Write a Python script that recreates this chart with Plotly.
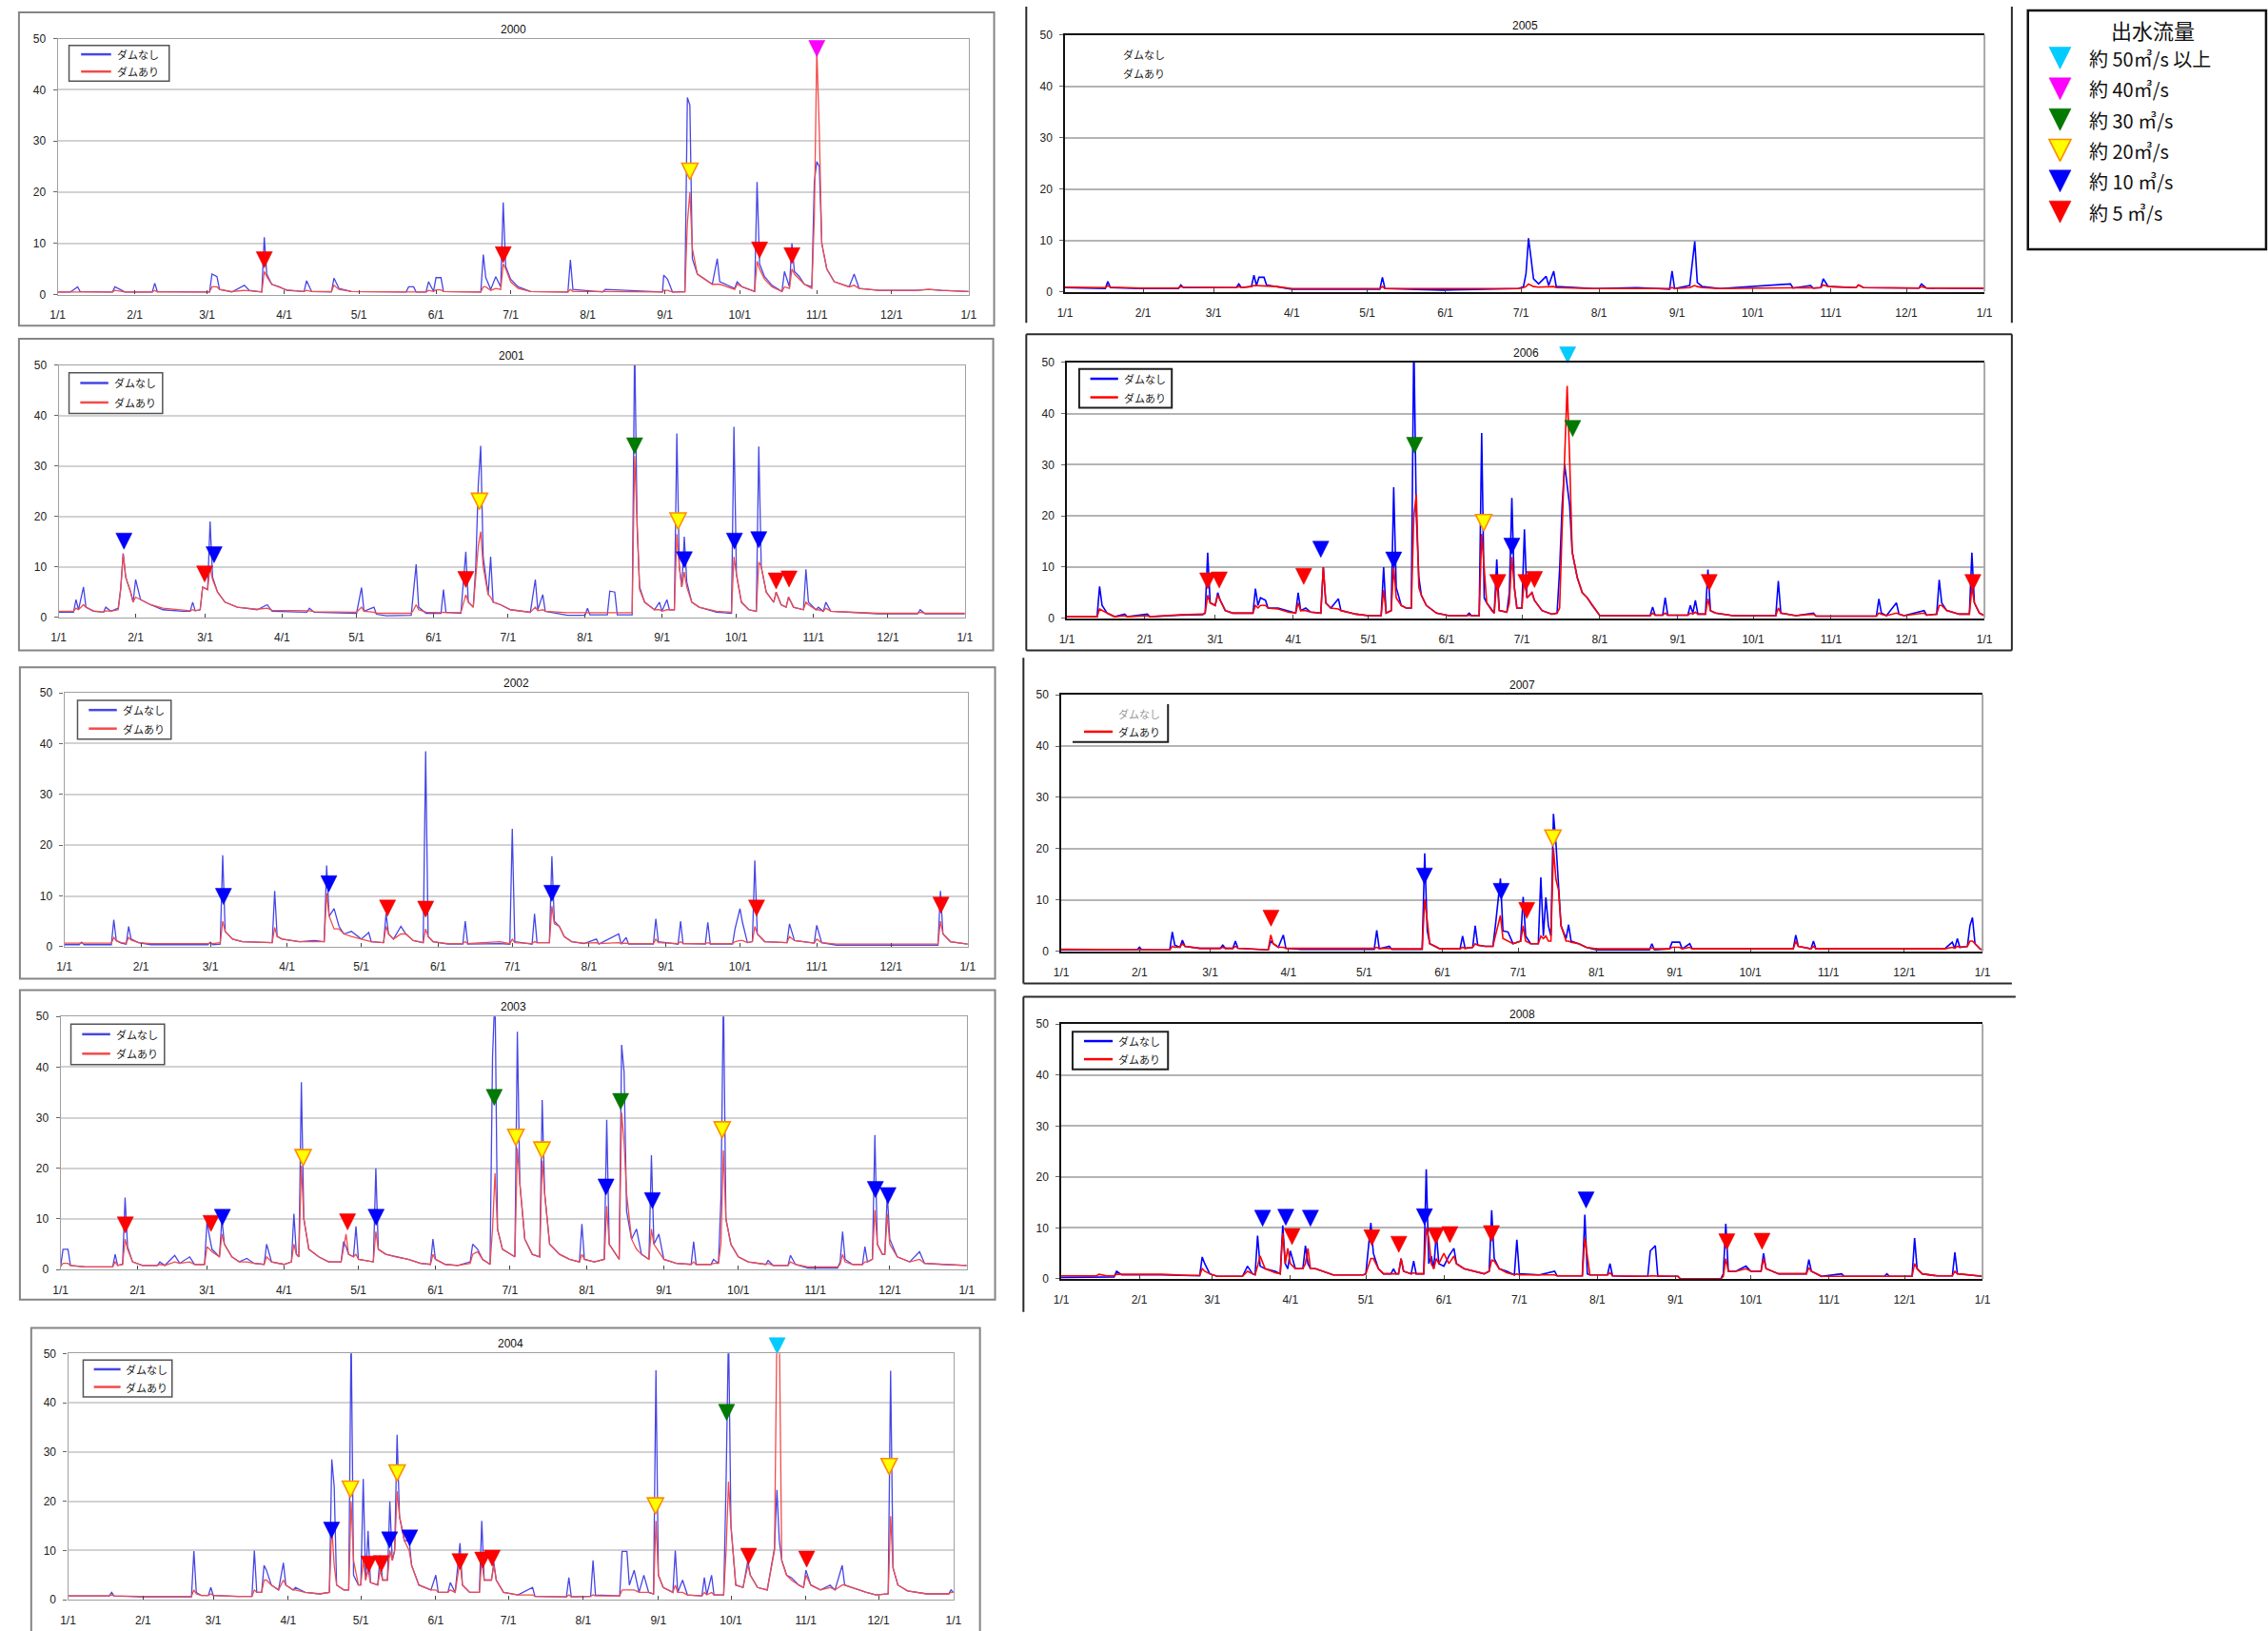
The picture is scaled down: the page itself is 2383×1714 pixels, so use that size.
import datetime
import plotly.graph_objects as go

W, H = 2383, 1714
NUMFONT = "Liberation Sans, Noto Sans CJK JP, sans-serif"
JFONT = "Noto Sans CJK JP, sans-serif"

# ---------------- data: (day of year, ダムなし, ダムあり) ----------------
y2000 = [(0,0.5,0.5),(5,0.5,0.5),(6,0.8,0.6),(8,1.5,0.6),(9,0.6,0.5),(22,0.5,0.5),(23,1.5,0.8),(25,1.0,0.7),
 (27,0.5,0.5),(38,0.5,0.5),(39,2.2,0.8),(40,0.6,0.5),(61,0.5,0.5),(62,4.0,1.5),(64,3.5,1.5),(65,1.0,1.0),
 (70,0.5,0.6),(75,1.8,0.8),(77,0.8,0.7),(82,0.5,0.5),(83,11.2,4.5),(84,4.0,3.5),(86,2.0,2.0),(89,1.5,1.5),
 (92,0.8,0.9),(99,0.6,0.6),(100,2.7,0.8),(102,0.6,0.6),(110,0.5,0.6),(111,3.2,1.8),(113,1.2,1.0),(118,0.6,0.6),
 (140,0.5,0.5),(141,1.5,0.6),(143,1.5,0.6),(144,0.5,0.5),(148,0.5,0.5),(149,2.5,0.8),(151,0.6,0.6),(152,3.3,0.9),
 (154,3.3,0.9),(155,0.6,0.6),(170,0.5,0.5),(171,7.8,1.5),(172,3.3,1.5),(174,1.0,0.8),(176,3.5,1.2),(178,1.5,1.0),
 (179,18.0,6.0),(180,5.5,5.0),(182,3.0,2.5),(185,1.5,1.2),(190,0.6,0.6),(205,0.5,0.5),(206,6.8,1.0),(207,1.0,0.6),
 (219,0.5,0.5),(220,1.0,0.6),(243,0.5,0.5),(243.5,3.8,0.8),(245,3.0,0.8),(247,0.5,0.5),(252,0.6,0.5),(253,38.5,14.0),
 (254,37.0,20.0),(255,7.0,9.0),(257,4.0,4.0),(260,3.0,3.0),(263,2.0,2.0),(265,7.0,2.0),(266,2.5,2.0),(272,1.2,1.0),
 (273,2.5,2.0),(275,1.5,1.5),(280,0.6,0.6),(281,22.0,6.5),(282,6.0,5.0),(284,3.5,3.0),(287,1.8,1.5),(291,0.6,0.6),
 (292,4.5,1.5),(294,1.5,1.2),(295,10.0,5.0),(296,4.5,4.0),(298,3.5,3.0),(300,2.0,2.0),(303,1.5,1.2),(304,22.0,15.0),
 (305,26.0,48.0),(306,25.0,32.0),(307,10.0,10.0),(309,5.0,5.0),(312,2.5,2.5),(318,1.5,1.5),(320,4.0,1.8),(322,1.2,1.2),
 (330,0.8,0.8),(345,0.8,0.8),(350,1.0,1.0),(355,0.8,0.8),(366,0.6,0.6)]

y2001 = [(0,1.0,1.2),(6,1.0,1.2),(7,3.5,1.8),(8,1.5,1.5),(10,6.0,2.5),(11,2.0,2.0),(14,1.2,1.3),(18,1.0,1.0),
 (19,2.0,1.3),(21,1.2,1.2),(24,1.8,1.5),(25,5.8,5.5),(26,12.7,12.5),(27,8.0,8.0),(29,5.0,5.0),(30,3.0,3.0),
 (31,7.5,4.0),(33,3.5,3.5),(37,2.5,2.5),(42,1.5,1.8),(50,1.2,1.5),(53,1.2,1.3),(54,3.0,1.5),(55,1.3,1.3),
 (57,1.5,1.5),(58,6.0,6.0),(60,5.5,5.5),(61,19.0,10.0),(62,8.0,7.5),(64,5.0,5.0),(67,3.0,3.0),(72,2.0,2.0),
 (80,1.5,1.6),(84,2.5,1.8),(86,1.2,1.4),(100,1.0,1.2),(101,1.8,1.3),(103,1.0,1.1),(120,0.8,1.0),(122,5.9,2.0),
 (123,1.2,1.2),(127,2.0,1.0),(128,0.6,0.8),(132,0.3,0.8),(142,0.4,0.8),(143,5.5,1.5),(144,10.5,2.5),(145,2.0,1.5),
 (148,0.8,1.0),(154,0.8,0.9),(155,5.5,1.0),(156,1.0,0.9),(162,0.8,0.9),(164,13.0,4.5),(165,3.0,3.0),(167,2.0,2.0),
 (168,10.0,8.0),(169,26.0,14.0),(170,34.0,17.0),(171,12.0,10.0),(173,4.5,4.5),(174,12.0,4.0),(175,3.0,3.0),
 (178,2.5,2.5),(182,1.5,1.5),(190,1.0,1.0),(192,7.5,2.0),(193,1.5,1.3),(195,4.5,1.5),(196,1.2,1.2),(205,0.4,0.9),
 (212,0.4,0.9),(213,1.8,1.0),(214,0.5,0.9),(221,0.5,0.9),(222,5.2,1.0),(224,5.0,1.0),(225,0.5,0.9),(231,0.5,0.9),
 (232,55.0,32.0),(233,18.0,18.0),(234,6.0,5.5),(236,3.0,3.0),(240,1.5,1.5),(242,3.0,1.5),(243,1.2,1.2),(245,3.5,1.5),
 (246,1.5,1.5),(248,1.5,1.5),(249,36.5,16.5),(250,10.0,10.0),(251,6.0,6.0),(252,16.0,9.0),(253,7.0,6.0),(255,3.0,3.0),
 (258,2.0,2.0),(265,1.0,1.2),(271,0.8,1.0),(272,37.8,12.0),(273,8.5,8.5),(275,3.0,3.0),(278,1.5,1.5),(281,1.2,1.2),
 (282,33.9,11.0),(283,10.0,10.0),(285,5.0,5.0),(288,3.0,3.0),(289,5.0,5.0),(291,2.5,2.5),(293,2.0,2.0),(294,4.0,4.0),
 (296,2.0,2.0),(300,1.5,1.5),(301,9.5,3.0),(302,3.0,2.5),(305,1.5,1.5),(306,2.0,1.5),(308,1.2,1.2),(309,3.0,1.8),
 (311,1.2,1.2),(320,0.9,1.0),(330,0.7,0.8),(346,0.7,0.8),(347,1.5,1.0),(349,0.7,0.8),(365,0.7,0.8)]

y2002 = [(0,0.4,0.7),(6,0.4,0.7),(7,0.9,0.8),(8,0.4,0.7),(19,0.4,0.7),(20,5.3,1.8),(21,1.2,1.2),(23,0.7,0.8),
 (25,0.5,0.7),(26,4.0,1.8),(27,1.5,1.3),(30,0.8,0.8),(35,0.4,0.6),(58,0.4,0.6),(59,0.9,0.7),(60,0.4,0.6),
 (63,0.5,0.8),(64,18.0,5.0),(65,3.0,3.0),(68,1.5,1.5),(72,1.0,1.0),(84,0.8,0.8),(85,11.0,3.8),(86,2.0,2.0),
 (88,1.5,1.5),(95,1.0,1.0),(101,1.2,1.0),(105,1.0,1.0),(106,16.0,10.5),(107,6.0,6.0),(109,7.5,3.5),(111,4.0,3.5),
 (113,2.5,2.5),(116,3.0,2.0),(120,1.5,1.5),(123,2.8,1.2),(124,1.0,1.0),(129,0.8,0.8),(130,6.5,4.0),(131,2.5,2.5),
 (133,1.5,1.5),(136,4.0,2.5),(138,2.5,2.5),(141,1.2,1.2),(145,0.8,0.8),(146,38.5,3.5),(147,2.0,2.0),(149,1.0,1.0),
 (155,0.5,0.6),(161,0.5,0.6),(162,5.0,1.0),(163,0.5,0.6),(176,0.6,1.0),(180,0.5,0.6),(181,23.2,1.5),(182,1.0,0.8),
 (189,0.5,0.6),(190,6.5,1.0),(191,0.8,0.8),(196,0.8,0.8),(197,17.8,8.0),(198,5.0,4.5),(200,4.0,4.0),(202,2.0,2.0),
 (205,1.0,1.0),(210,0.6,0.7),(215,1.5,0.8),(216,0.5,0.6),(224,2.5,0.8),(225,0.5,0.6),(227,1.8,0.7),(228,0.5,0.6),
 (238,0.5,0.6),(239,5.5,1.5),(240,1.0,0.8),(248,0.5,0.6),(249,5.0,1.0),(250,0.6,0.6),(259,0.5,0.6),(260,4.8,0.8),
 (261,0.5,0.6),(270,0.5,0.6),(271,3.5,1.0),(273,7.5,1.2),(274,4.8,1.2),(276,0.8,0.8),(278,1.0,1.0),(279,17.0,4.0),
 (280,2.5,2.5),(283,1.0,1.0),(292,0.8,0.8),(293,4.5,2.0),(295,1.2,1.2),(303,0.7,0.7),(304,4.2,1.5),(306,0.8,0.8),
 (312,0.3,0.5),(353,0.3,0.5),(354,11.0,5.0),(355,2.5,2.5),(358,1.0,1.0),(365,0.5,0.5)]

y2003 = [(0,0.5,0.6),(1,4.0,1.2),(3,4.0,1.2),(4,0.8,0.8),(10,0.5,0.5),(21,0.5,0.5),(22,3.0,1.5),(23,0.8,0.8),
 (25,1.0,1.0),(26,14.2,6.0),(27,4.5,4.0),(29,1.5,1.5),(33,0.8,0.8),(39,0.8,0.8),(40,1.5,1.0),(42,0.8,0.8),
 (46,2.8,1.5),(48,1.2,1.2),(52,2.5,1.5),(54,1.0,1.0),(58,1.0,1.0),(59,9.5,4.5),(60,6.5,4.0),(61,4.0,3.5),
 (64,2.5,2.5),(65,10.0,7.0),(66,5.0,5.0),(69,2.5,2.5),(72,1.5,1.5),(75,2.2,1.5),(78,1.2,1.2),(82,1.0,1.0),
 (83,5.0,2.5),(85,1.5,1.5),(90,1.0,1.0),(93,1.5,1.5),(94,11.0,5.0),(95,3.0,3.0),(96,2.5,2.5),(97,37.0,20.5),
 (98,10.0,10.0),(100,4.0,4.0),(104,2.5,2.5),(108,1.5,1.5),(113,1.5,1.5),(114,5.5,4.0),(115,4.5,7.0),(116,3.0,3.0),
 (118,2.5,2.5),(119,8.5,3.0),(120,2.0,2.0),(126,1.5,1.5),(127,20.0,7.5),(128,4.0,4.0),(131,3.0,3.0),(135,2.5,2.5),
 (140,2.0,2.0),(145,1.2,1.2),(149,1.0,1.0),(150,6.0,3.0),(151,2.0,2.0),(155,1.0,1.0),(160,0.8,0.8),(165,1.5,1.2),
 (166,5.0,3.0),(168,4.0,3.5),(170,2.0,2.0),(173,1.0,1.0),(174,42.0,8.0),(175,55.0,19.0),(176,8.0,8.0),(178,4.0,4.0),
 (181,3.0,3.0),(183,2.5,2.5),(184,47.0,24.0),(185,17.0,17.0),(187,6.0,6.0),(190,3.0,3.0),(193,2.5,2.5),
 (194,33.5,21.5),(195,15.0,15.0),(197,5.0,5.0),(201,3.0,3.0),(205,2.0,2.0),(209,1.5,1.5),(210,9.0,3.0),(211,2.0,2.0),
 (215,1.5,1.5),(219,2.0,2.0),(220,29.6,12.5),(221,5.0,5.0),(223,3.5,3.5),(225,2.0,2.0),(226,44.4,31.0),
 (227,39.0,25.0),(228,11.5,15.0),(230,6.0,6.0),(232,8.0,4.0),(234,3.0,3.0),(237,2.0,2.0),(238,22.6,8.0),
 (239,5.0,5.0),(241,7.0,3.5),(243,2.0,2.0),(248,1.2,1.2),(254,1.0,1.0),(255,5.5,1.5),(256,1.0,1.0),(262,1.0,1.0),
 (263,2.0,1.2),(265,1.2,1.2),(266,14.0,5.0),(267,55.0,23.5),(268,10.0,10.0),(270,5.0,5.0),(273,2.5,2.5),
 (277,1.5,1.5),(284,1.0,1.0),(285,1.8,1.2),(287,0.8,0.8),(293,0.8,0.8),(294,2.8,1.5),(296,1.0,1.0),(301,0.3,0.5),
 (313,0.3,0.5),(314,1.5,1.0),(315,7.5,3.0),(316,2.0,1.5),(319,1.0,1.0),(323,1.0,1.0),(324,4.5,1.5),(325,1.5,1.5),
 (327,2.0,2.0),(328,26.6,11.7),(329,5.0,5.0),(331,3.0,3.0),(332,3.0,3.0),(333,15.0,11.0),(334,6.0,5.0),
 (337,2.5,2.5),(342,1.5,1.5),(346,3.5,2.0),(348,1.2,1.2),(355,1.0,1.0),(365,0.8,0.8)]

y2004 = [(0,0.8,0.8),(17,0.8,0.8),(18,1.5,1.0),(19,0.8,0.8),(30,0.6,0.7),(51,0.6,0.7),(52,9.9,2.0),(53,1.5,1.2),
 (55,0.9,0.9),(58,0.9,0.9),(59,2.5,1.2),(60,0.9,0.9),(70,0.7,0.7),(76,0.7,0.7),(77,10.0,2.0),(78,1.5,1.5),
 (80,1.5,1.5),(81,7.0,4.0),(82,6.0,4.0),(84,3.0,3.0),(87,2.0,2.0),(89,7.5,4.0),(90,3.0,3.0),(93,2.0,2.0),
 (94,2.5,2.0),(98,1.5,1.5),(104,1.2,1.2),(108,1.5,1.5),(109,28.5,15.0),(110,23.0,7.0),(111,3.0,3.0),(114,2.0,2.0),
 (116,2.0,2.0),(117,55.0,20.0),(118,5.0,8.0),(120,3.0,3.0),(121,3.0,3.0),(122,24.5,8.0),(123,4.0,4.0),
 (124,14.0,6.0),(125,3.5,3.5),(128,3.0,3.0),(129,9.0,6.0),(130,4.0,4.0),(132,4.0,4.0),(133,20.0,10.0),(134,8.0,8.0),
 (135,10.0,10.0),(136,33.5,22.0),(137,16.8,17.0),(139,12.0,12.0),(141,12.0,10.0),(142,7.0,7.0),(145,3.0,3.0),
 (150,2.0,2.0),(152,5.0,2.0),(153,1.5,1.5),(157,1.5,1.5),(158,3.5,2.0),(160,1.5,1.5),(162,11.5,8.0),(163,3.0,3.0),
 (166,1.5,1.5),(170,1.5,1.5),(171,16.0,8.0),(172,4.0,4.0),(175,4.0,4.0),(176,7.5,7.0),(177,4.0,4.0),(180,1.5,1.5),
 (186,1.0,1.0),(192,2.5,1.0),(193,0.7,0.7),(206,0.6,0.6),(207,4.5,1.0),(208,0.6,0.6),(216,0.7,0.7),(217,8.0,1.0),
 (218,1.0,0.8),(228,0.8,0.8),(229,9.8,2.0),(231,9.8,2.0),(232,3.0,2.0),(234,6.0,2.0),(236,1.5,1.5),(238,5.0,1.5),
 (240,1.5,1.5),(242,1.2,1.2),(243,46.6,16.0),(244,5.0,5.0),(246,2.5,2.5),(250,1.5,1.5),(251,10.0,3.0),(252,1.5,1.5),
 (254,4.0,1.5),(256,1.0,1.0),(262,0.8,0.8),(263,4.5,1.5),(264,1.0,1.0),(266,5.0,1.5),(267,1.0,1.0),(271,1.0,1.0),
 (272,24.0,10.0),(273,55.0,24.0),(274,15.0,15.0),(276,3.0,3.0),(279,2.5,2.5),(281,8.0,7.0),(282,5.0,5.0),
 (285,2.5,2.5),(289,2.0,2.0),(292,10.5,10.0),(293,22.3,55.0),(294,12.0,55.0),(295,8.0,8.0),(297,5.0,5.0),
 (299,4.5,4.0),(302,3.0,3.0),(304,2.5,2.5),(305,6.0,5.0),(307,3.0,3.0),(311,2.0,2.0),(315,3.0,2.5),(317,2.0,2.0),
 (320,7.0,3.0),(321,3.0,3.0),(324,2.5,2.5),(330,1.5,1.5),(334,1.0,1.0),(339,1.2,1.2),(340,46.5,17.0),(341,6.5,6.5),
 (343,3.0,3.0),(347,1.8,1.8),(355,1.2,1.2),(364,1.2,1.2),(365,2.0,1.5),(366,1.5,1.5)]

y2005 = [(0,0.8,0.9),(16,0.6,0.8),(17,2.0,1.2),(18,0.8,0.9),(30,0.6,0.7),(45,0.6,0.7),(46,1.3,1.0),(47,0.8,0.9),
 (68,0.8,0.8),(69,1.5,1.0),(70,0.8,0.8),(74,1.0,1.0),(75,3.2,1.2),(76,1.2,1.2),(77,2.8,1.2),(79,2.8,1.2),
 (80,1.3,1.1),(84,1.0,1.0),(90,0.5,0.6),(125,0.5,0.6),(126,2.8,1.0),(127,0.6,0.6),(150,0.3,0.6),(180,0.6,0.6),
 (182,1.0,0.8),(183,3.5,1.0),(184,10.4,1.5),(185,6.5,1.2),(186,2.5,1.0),(188,1.5,0.9),(191,3.0,1.0),(192,1.2,0.9),
 (194,4.0,1.0),(195,1.0,0.8),(210,0.6,0.6),(227,0.8,0.6),(240,0.5,0.6),(241,4.0,0.8),(242,0.6,0.6),(248,1.2,0.8),
 (250,9.8,1.2),(251,1.8,1.0),(253,1.0,0.8),(260,0.6,0.6),(288,1.5,0.8),(289,0.7,0.7),(296,1.2,0.8),(297,0.7,0.7),
 (300,0.8,0.8),(301,2.5,1.3),(303,1.0,1.0),(314,0.8,0.8),(315,1.3,1.3),(317,0.8,0.8),(339,0.7,0.7),(340,1.5,1.0),
 (342,0.7,0.7),(365,0.6,0.7)]

y2006 = [(0,0.3,0.3),(12,0.3,0.3),(13,6.2,1.8),(14,2.5,1.5),(16,1.0,1.0),(19,0.3,0.3),(23,0.8,0.5),(24,0.3,0.3),
 (32,0.8,0.5),(33,0.3,0.3),(45,0.6,0.7),(54,0.7,0.8),(55,1.0,1.0),(56,12.8,4.5),(57,3.0,3.0),(59,2.5,2.5),
 (60,5.0,4.5),(61,3.5,3.5),(63,1.5,1.5),(66,1.0,1.0),(74,1.0,1.0),(75,5.8,2.5),(76,2.5,2.0),(77,4.0,2.5),
 (79,3.5,2.5),(80,2.0,2.0),(84,2.0,1.8),(88,1.5,1.2),(91,1.0,1.0),(92,5.0,3.0),(93,1.5,1.5),(95,2.0,1.5),
 (97,1.2,1.2),(101,1.0,1.0),(102,10.0,10.0),(103,3.0,3.0),(105,2.0,2.0),(108,3.8,1.8),(109,1.5,1.5),(115,0.8,0.8),
 (120,0.5,0.5),(125,0.5,0.5),(126,10.0,5.5),(127,1.0,1.0),(129,1.5,1.5),(130,25.6,10.0),(131,6.0,4.0),(133,2.5,2.5),
 (135,2.0,2.0),(137,2.0,2.0),(138,55.0,20.0),(139,20.0,24.2),(140,8.0,6.0),(141,4.5,4.5),(143,2.5,2.5),
 (147,1.0,1.0),(152,0.5,0.5),(159,0.5,0.5),(160,1.0,0.6),(161,0.5,0.5),(164,0.5,0.5),(165,36.2,16.5),(166,4.0,10.0),
 (167,3.0,3.0),(169,1.5,1.5),(170,1.0,1.0),(171,11.5,7.5),(172,1.5,1.5),(175,1.2,1.2),(176,5.0,3.0),(177,23.5,12.0),
 (178,6.0,6.0),(179,2.0,2.0),(181,2.0,2.0),(182,17.4,8.0),(183,4.0,4.0),(185,5.0,5.0),(186,3.5,3.5),(189,1.5,1.5),
 (193,0.8,0.8),(195,1.0,1.0),(196,9.4,2.0),(197,22.0,17.5),(198,30.0,31.5),(199,26.0,45.4),(200,22.0,31.0),
 (201,13.0,13.0),(203,8.0,8.0),(205,5.0,5.0),(207,4.0,4.0),(209,2.5,2.5),(212,0.5,0.5),(232,0.5,0.5),(233,2.2,1.0),
 (234,0.6,0.6),(237,0.6,0.6),(238,4.0,1.0),(239,0.6,0.6),(247,0.6,0.6),(248,2.5,1.0),(249,1.0,0.8),(250,3.5,1.2),
 (251,0.8,0.8),(254,0.8,0.8),(255,9.5,3.8),(256,1.5,1.5),(258,1.0,1.0),(265,0.5,0.5),(282,0.5,0.5),(283,7.3,2.0),
 (284,1.0,1.0),(290,0.5,0.5),(297,1.0,0.8),(298,0.4,0.4),(322,0.4,0.4),(323,3.8,1.0),(324,1.0,0.8),(326,0.5,0.5),
 (330,3.0,1.0),(331,0.8,0.8),(333,0.5,0.5),(341,1.5,1.0),(342,0.6,0.6),(346,0.8,0.8),(347,7.5,2.5),(348,3.0,2.5),
 (350,1.5,1.5),(355,0.8,0.8),(359,0.8,0.8),(360,12.8,6.0),(361,3.0,3.0),(363,1.0,1.0),(365,0.5,0.5)]

y2007 = [(0,0.3,0.4),(30,0.3,0.3),(31,0.8,0.4),(32,0.3,0.3),(43,0.3,0.3),(44,3.8,1.0),(45,1.2,0.8),(47,0.8,0.8),
 (48,2.2,1.5),(49,1.0,1.0),(55,0.6,0.6),(63,0.6,0.6),(64,1.2,0.8),(65,0.6,0.6),(68,0.6,0.6),(69,2.0,1.0),
 (70,0.6,0.6),(82,0.3,0.3),(83,2.0,3.2),(84,1.5,1.5),(86,0.8,0.8),(88,3.2,0.8),(89,0.6,0.6),(95,0.4,0.6),
 (124,0.4,0.6),(125,4.1,0.8),(126,0.5,0.6),(130,1.0,0.6),(131,0.4,0.5),(143,0.4,0.5),(144,19.1,10.2),(145,4.0,6.0),
 (146,1.5,1.5),(149,0.8,0.8),(150,0.5,0.5),(158,0.5,0.5),(159,3.0,0.8),(160,0.6,0.6),(163,0.8,0.8),(164,5.0,1.5),
 (165,1.2,1.2),(168,1.0,1.0),(171,1.0,1.0),(172,5.0,3.0),(174,14.2,7.0),(175,4.0,2.5),(177,3.8,2.0),(179,1.5,1.5),
 (182,2.0,2.0),(183,10.6,5.0),(184,3.0,2.0),(186,1.5,1.5),(189,1.5,1.5),(190,14.4,3.0),(191,3.0,2.5),
 (192,10.5,3.0),(193,5.0,2.0),(194,3.0,2.0),(195,26.8,20.0),(196,21.0,14.0),(197,11.8,12.0),(198,5.0,5.0),
 (200,2.5,2.0),(201,5.2,2.0),(202,2.0,1.8),(205,1.5,1.5),(208,0.8,0.8),(212,0.3,0.5),(233,0.3,0.5),(234,1.5,0.7),
 (235,0.3,0.5),(241,0.5,0.5),(242,1.8,0.8),(245,1.8,0.8),(246,0.5,0.5),(249,1.5,0.8),(250,0.5,0.5),(290,0.5,0.5),
 (291,3.2,2.0),(292,1.0,1.0),(297,0.5,0.5),(298,2.0,1.0),(299,0.5,0.5),(350,0.5,0.5),(353,1.8,0.8),(354,0.6,0.6),
 (355,2.5,1.0),(356,0.8,0.8),(359,1.0,1.0),(360,5.0,2.0),(361,6.6,2.0),(362,1.5,1.5),(364,0.5,0.5),(365,0.3,0.3)]

y2008 = [(0,0.3,0.6),(14,0.3,0.6),(15,0.3,0.9),(18,0.3,0.6),(21,0.4,0.6),(22,1.5,0.9),(24,0.8,0.9),(40,0.8,0.9),
 (50,0.7,0.7),(55,0.6,0.7),(56,4.3,2.0),(57,3.0,1.5),(59,1.0,1.0),(62,0.5,0.5),(72,0.5,0.5),(74,2.5,1.5),
 (76,1.0,1.0),(77,0.8,0.8),(78,8.5,2.5),(79,2.5,4.5),(81,2.0,2.0),(85,1.5,1.2),(87,1.0,1.0),(88,10.5,9.0),
 (89,3.0,3.0),(90,2.0,6.0),(91,5.5,3.0),(93,2.0,2.0),(96,2.0,2.0),(97,6.5,3.0),(98,3.0,6.0),(99,2.0,2.0),
 (101,2.0,2.0),(104,1.5,1.5),(108,0.8,0.8),(120,0.8,0.8),(121,1.0,1.0),(123,11.0,4.0),(124,5.0,4.0),(126,2.0,2.0),
 (128,1.0,1.0),(131,1.0,1.0),(132,2.0,1.0),(133,1.0,1.0),(134,1.0,1.0),(135,4.0,4.0),(136,1.5,1.5),(139,1.0,1.0),
 (140,3.5,1.2),(141,1.0,1.0),(144,1.0,1.0),(145,21.5,10.0),(146,3.0,8.0),(147,4.5,3.0),(148,2.0,2.0),(149,9.0,4.0),
 (150,3.0,3.0),(152,2.5,5.0),(154,4.5,3.0),(156,6.0,4.5),(157,3.0,3.0),(160,2.0,2.0),(164,1.5,1.5),(168,1.0,1.0),
 (170,1.5,1.5),(171,13.5,3.7),(172,4.0,3.5),(174,2.0,2.0),(177,1.5,1.2),(180,0.8,0.8),(181,7.7,1.0),(182,1.0,0.8),
 (190,0.8,0.8),(196,1.5,0.8),(197,0.6,0.6),(200,0.6,0.6),(207,0.6,0.6),(208,12.6,8.0),(209,1.0,4.0),(210,0.8,0.8),
 (217,0.8,0.8),(218,3.0,1.2),(219,0.6,0.6),(225,0.5,0.5),(233,0.5,0.5),(234,5.5,0.6),(236,6.5,0.6),(237,0.5,0.5),
 (245,0.5,0.5),(246,0.0,0.0),(262,0.0,0.0),(263,1.0,0.5),(264,10.8,4.0),(265,1.5,1.5),(268,1.5,1.5),(272,2.5,2.0),
 (274,1.5,1.5),(278,1.5,1.5),(279,5.0,4.0),(280,2.0,2.0),(285,1.0,1.0),(296,1.0,1.0),(297,3.8,2.2),(298,1.5,1.5),
 (302,0.5,0.5),(310,1.0,0.5),(311,0.5,0.5),(327,0.5,0.5),(328,1.0,0.6),(329,0.5,0.5),(338,0.5,0.5),(339,8.0,3.0),
 (340,2.0,2.0),(342,1.0,1.0),(348,0.6,0.6),(354,0.6,0.6),(355,5.2,1.5),(356,1.0,1.0),(360,0.8,0.8),(366,0.5,0.5)]

# ---------------- flood markers: (day of year, tip value, flow class m3/s) ----------------
mk2000 = [(83,5.2,5),(179,6.2,5),(254,22.5,20),(282,7.1,5),(295,6.0,5),(305,46.5,40)]
mk2001 = [(26.3,13.5,10),(58.8,7.0,5),(62.6,10.8,10),(164,5.9,5),(169.5,21.4,20),(232,32.4,30),(249.5,17.5,20),
          (252,9.8,10),(272.2,13.5,10),(282,13.8,10),(289,5.6,5),(294.2,6.0,5)]
mk2002 = [(64.3,8.3,10),(106.9,10.8,10),(130.6,6.0,5),(146,5.8,5),(197,8.9,10),(279.7,6.0,5),(354.2,6.6,5)]
mk2003 = [(26.1,7.2,5),(60.6,7.5,5),(65.2,8.7,10),(97.7,20.5,20),(115.6,7.8,5),(127.1,8.7,10),(174.7,32.4,30),
          (183.4,24.5,20),(193.9,22.0,20),(219.7,14.7,10),(225.6,31.6,30),(238.4,12.0,10),(266.5,26.0,20),
          (328.2,14.2,10),(333.3,13.0,10)]
mk2004 = [(108.9,12.5,10),(116.7,20.8,20),(124.3,5.6,5),(129.5,5.7,5),(132.9,10.5,10),(136,24.1,20),(141.2,10.9,10),
          (162,6.1,5),(171.4,6.4,5),(175.3,6.8,5),(242.8,17.4,20),(272.2,36.4,30),(281.3,7.2,5),(293.1,49.9,50),
          (305.3,6.6,5),(339.4,25.4,20)]
mk2005 = []
mk2006 = [(56,5.7,5),(60.6,5.9,5),(94.2,6.6,5),(101,11.9,10),(130,9.8,10),(138.3,32.2,30),(165.8,17.1,20),
          (171.4,5.4,5),(177,12.5,10),(182.6,5.4,5),(186,6.0,5),(199.2,49.9,50),(201.2,35.5,30),(255.5,5.4,5),
          (360.4,5.4,5)]
mk2007 = [(83.1,4.9,5),(143.9,13.1,10),(174.3,10.1,10),(184.4,6.4,5),(194.8,20.5,20)]
mk2008 = [(80,10.3,10),(89.2,10.5,10),(91.7,6.7,5),(99,10.3,10),(123.4,6.5,5),(134.1,5.2,5),(144.3,10.6,10),
          (148.8,6.8,5),(154.4,7.1,5),(170.9,7.3,5),(208.5,13.9,10),(264.4,5.7,5),(278.4,5.8,5)]

years = [2000, 2001, 2002, 2003, 2004, 2005, 2006, 2007, 2008]
series = dict(zip(years, [y2000, y2001, y2002, y2003, y2004, y2005, y2006, y2007, y2008]))
marks = dict(zip(years, [mk2000, mk2001, mk2002, mk2003, mk2004, mk2005, mk2006, mk2007, mk2008]))

month_labels = ["1/1", "2/1", "3/1", "4/1", "5/1", "6/1", "7/1", "8/1", "9/1", "10/1", "11/1", "12/1", "1/1"]
ytick_vals = [0, 10, 20, 30, 40, 50]
legend_title = "出水流量"
legend_classes = [50, 40, 30, 20, 10, 5]
legend_labels = ["約 50㎥/s 以上", "約 40㎥/s", "約 30 ㎥/s", "約 20㎥/s", "約 10 ㎥/s", "約 5 ㎥/s"]
name_nashi, name_ari = "ダムなし", "ダムあり"

# ---------------- styles & layout geometry (pixels) ----------------
CLASS_STYLE = {50: ("#00CCFF", "#00BFF0", 0.5), 40: ("#FF00FF", "#E000E0", 0.5), 30: ("#007A00", "#006600", 0.5),
               20: ("#FFFF00", "#FF8C00", 1.6), 10: ("#0000FF", "#0000DD", 0.5), 5: ("#FF0000", "#E00000", 0.5)}

# plot-area geometry: L, R, T (50 line), B (0 line)
GEOM = {2000: (53, 1017, 34, 305), 2001: (54, 1013, 380, 647), 2002: (60, 1016, 727, 996),
        2003: (56, 1015, 1070, 1338), 2004: (64, 1001, 1427, 1688),
        2005: (1119, 2092, 30, 302), 2006: (1121, 2092, 377, 648), 2007: (1115, 2090, 729, 1001),
        2008: (1115, 2090, 1078, 1348)}
RIGHT = {2005, 2006, 2007, 2008}
# in-panel legend box: dx, dy from plot top-left, width, height, mode
LEG = {2000: (12, 7, 106, 38, "full"), 2001: (11, 8, 99, 43, "full"), 2002: (14, 8, 99, 41, "full"),
       2003: (11, 8, 99, 43, "full"), 2004: (16, 7, 94, 39, "full"), 2005: (13, 10, 100, 42, "text"),
       2006: (13, 7, 98, 41, "full"), 2007: (12, 10, 101, 40, "red"), 2008: (12, 8, 101, 40, "full")}


def px(x):
    return x / W


def py(y):
    return 1 - y / H


fig = go.Figure()
shapes, annos = [], []
layout = dict(width=W, height=H, margin=dict(l=0, r=0, t=0, b=0), paper_bgcolor="white",
              plot_bgcolor="white", showlegend=False)


def doy(yr, m):
    return datetime.date(yr, m, 1).timetuple().tm_yday - 1


for i, yr in enumerate(years, start=1):
    L, R, T, B = GEOM[yr]
    right = yr in RIGHT
    N = 366 if yr % 4 == 0 else 365
    tickvals = [doy(yr, m) for m in range(1, 13)] + [N]
    frame = "#111111" if right else "#A0A0A0"
    grid = "#B4B4B4" if right else "#D2D2D2"
    xs = [p[0] for p in series[yr]]
    nashi = [p[1] for p in series[yr]]
    ari = [p[2] for p in series[yr]]
    xa, ya = f"x{i}", f"y{i}"
    cb = "#0000FF" if right else "#4646E6"
    cr = "#FF0000" if right else "#F24B4B"
    lw = 1.6 if right else 1.3
    fig.add_trace(go.Scatter(x=xs, y=nashi, mode="lines", line=dict(color=cb, width=lw), xaxis=xa, yaxis=ya,
                             name=name_nashi, hoverinfo="skip"))
    fig.add_trace(go.Scatter(x=xs, y=ari, mode="lines", line=dict(color=cr, width=lw), xaxis=xa, yaxis=ya,
                             name=name_ari, hoverinfo="skip"))
    mk = marks[yr]
    if mk:
        fig.add_trace(go.Scatter(
            x=[m[0] for m in mk], y=[m[1] for m in mk], mode="markers", xaxis=xa, yaxis=ya, cliponaxis=False,
            marker=dict(symbol="arrow-down", size=17,
                        color=[CLASS_STYLE[m[2]][0] for m in mk],
                        line=dict(color=[CLASS_STYLE[m[2]][1] for m in mk],
                                  width=[CLASS_STYLE[m[2]][2] for m in mk])),
            hoverinfo="skip"))
    key = "" if i == 1 else str(i)
    layout["xaxis" + key] = dict(
        domain=[px(L), px(R)], range=[0, N], anchor=ya, tickmode="array", tickvals=tickvals,
        ticktext=month_labels, showgrid=False, zeroline=False, showline=True, mirror=True,
        linecolor=frame, linewidth=1.5 if right else 1.2, ticks="inside", ticklen=4, tickcolor="#444",
        tickfont=dict(family=NUMFONT, size=12, color="#222"), ticklabelstandoff=10, fixedrange=True)
    layout["yaxis" + key] = dict(
        domain=[py(B), py(T)], range=[0, 50], anchor=xa, tickmode="array", tickvals=ytick_vals,
        showgrid=True, gridcolor=grid, gridwidth=2 if right else 1.5, zeroline=False, showline=True,
        mirror=not right, linecolor=frame, linewidth=1.5 if right else 1.2, ticks="outside", ticklen=4,
        tickcolor="#666", tickfont=dict(family=NUMFONT, size=12, color="#222"), ticklabelstandoff=5,
        fixedrange=True)
    if right:
        shapes.append(dict(type="line", xref="paper", yref="paper", x0=px(R), x1=px(R), y0=py(B), y1=py(T),
                           line=dict(color="#A8A8A8", width=2)))
    # panel title
    annos.append(dict(text=str(yr), x=px((L + R) / 2), y=py(T - 10), xref="paper", yref="paper",
                      showarrow=False, font=dict(family=NUMFONT, size=12, color="#111"),
                      xanchor="center", yanchor="middle"))
    # in-panel legend
    dx, dy, lwid, lh, mode = LEG[yr]
    bx0, by0 = L + dx, T + dy
    bx1, by1 = bx0 + lwid, by0 + lh
    yb, yr_ = by0 + 0.25 * lh, by0 + 0.73 * lh
    lx0, lx1, tx = bx0 + 0.12 * lwid, bx0 + 0.42 * lwid, bx0 + 0.46 * lwid
    bcol = "#202020" if right else "#555555"
    if mode == "full":
        shapes.append(dict(type="rect", xref="paper", yref="paper", x0=px(bx0), x1=px(bx1), y0=py(by1), y1=py(by0),
                           fillcolor="white", line=dict(color=bcol, width=2 if right else 1.5), layer="above"))
    elif mode == "red":
        shapes.append(dict(type="rect", xref="paper", yref="paper", x0=px(bx0), x1=px(bx1), y0=py(by1), y1=py(by0),
                           fillcolor="white", line=dict(width=0), layer="above"))
        shapes.append(dict(type="path", xref="paper", yref="paper",
                           path=f"M{px(bx0)},{py(by1)} L{px(bx1)},{py(by1)} L{px(bx1)},{py(by0)}",
                           line=dict(color=bcol, width=2), layer="above"))
    if mode in ("full",):
        shapes.append(dict(type="line", xref="paper", yref="paper", x0=px(lx0), x1=px(lx1), y0=py(yb), y1=py(yb),
                           line=dict(color=cb, width=2.5), layer="above"))
    if mode in ("full", "red"):
        shapes.append(dict(type="line", xref="paper", yref="paper", x0=px(lx0), x1=px(lx1), y0=py(yr_),
                           y1=py(yr_), line=dict(color=cr, width=2.5), layer="above"))
    faint = "#9A9A9A" if mode == "red" else "#222"
    annos.append(dict(text=name_nashi, x=px(tx), y=py(yb), xref="paper", yref="paper", showarrow=False,
                      xanchor="left", yanchor="middle", font=dict(family=JFONT, size=11, color=faint)))
    annos.append(dict(text=name_ari, x=px(tx), y=py(yr_), xref="paper", yref="paper", showarrow=False,
                      xanchor="left", yanchor="middle", font=dict(family=JFONT, size=11, color="#222")))

# outer panel frames
gray = dict(color="#858585", width=2)
dark = dict(color="#2A2A2A", width=2)
for (x0, y0, x1, y1) in [(12, 6, 1044, 338), (12, 352, 1043, 682), (13, 700, 1045, 1030), (13, 1042, 1045, 1370),
                         (25, 1400, 1029, 1730)]:
    shapes.append(dict(type="rect", xref="paper", yref="paper", x0=px(x0), x1=px(x1), y0=py(y1), y1=py(y0),
                       line=gray, layer="below"))
frame_lines = [((1078, 0), (1078, 335)), ((2121, 0), (2121, 335)),
               ((1078, 347), (2121, 347)), ((2121, 347), (2121, 682)), ((2121, 682), (1078, 682)), ((1078, 682), (1078, 347)),
               ((1075, 690), (1075, 1035)), ((1075, 1035), (2121, 1035)),
               ((1075, 1049), (2125, 1049)), ((1075, 1049), (1075, 1383))]
for (a, b) in frame_lines:
    shapes.append(dict(type="line", xref="paper", yref="paper", x0=px(a[0]), y0=py(a[1]), x1=px(b[0]), y1=py(b[1]),
                       line=dark, layer="below"))

# flow-class legend (top right)
shapes.append(dict(type="rect", xref="paper", yref="paper", x0=px(2138), x1=px(2390), y0=py(257), y1=py(4),
                   line=dict(color="#111", width=2.5), layer="below"))
annos.append(dict(text=legend_title, x=px(2270), y=py(24), xref="paper", yref="paper", showarrow=False,
                  xanchor="center", yanchor="middle", font=dict(family=JFONT, size=22, color="#111")))
row0, step = 55, 32.6
k = len(years) + 1
layout[f"xaxis{k}"] = dict(domain=[px(2138), 1.0], range=[2138, 2383], visible=False, fixedrange=True,
                           anchor=f"y{k}")
layout[f"yaxis{k}"] = dict(domain=[py(257), py(4)], range=[257, 4], visible=False, fixedrange=True,
                           anchor=f"x{k}")
fig.add_trace(go.Scatter(
    x=[2172] * len(legend_classes), y=[row0 + step * j + 11 for j in range(len(legend_classes))],
    mode="markers", xaxis=f"x{k}", yaxis=f"y{k}", cliponaxis=False, hoverinfo="skip",
    marker=dict(symbol="arrow-down", size=23,
                color=[CLASS_STYLE[c][0] for c in legend_classes],
                line=dict(color=[CLASS_STYLE[c][1] for c in legend_classes],
                          width=[CLASS_STYLE[c][2] for c in legend_classes]))))
for j, lab in enumerate(legend_labels):
    annos.append(dict(text=lab, x=px(2201), y=py(row0 + step * j), xref="paper", yref="paper", showarrow=False,
                      xanchor="left", yanchor="middle", font=dict(family=JFONT, size=20, color="#111")))

layout["shapes"] = shapes
layout["annotations"] = annos
fig.update_layout(**layout)
fig.write_html("out.html")
